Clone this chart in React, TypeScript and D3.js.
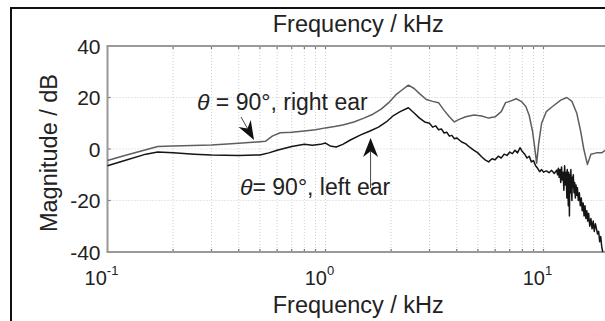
import React, { useEffect, useRef } from 'react';
import * as d3 from 'd3';

// frequencies in kHz, magnitudes in dB
const rightFreq = [0.1, 0.12, 0.15, 0.17, 0.2, 0.3, 0.4, 0.5, 0.53, 0.57, 0.62, 0.7, 0.8, 0.9, 1.0, 1.1, 1.2, 1.35, 1.5, 1.65, 1.8, 1.95, 2.1, 2.25, 2.4, 2.55, 2.7, 2.9, 3.1, 3.3, 3.5, 3.7, 3.9, 4.1, 4.4, 4.8, 5.2, 5.6, 6.0, 6.4, 6.7, 7.0, 7.5, 7.9, 8.3, 8.6, 8.9, 9.1, 9.3, 9.5, 9.8, 10.3, 11, 12, 12.8, 13.5, 14.2, 14.8, 15.3, 15.9, 16.5, 17.5, 18.5, 19.5, 20];
const rightDb = [-4.5, -2.5, -0.3, 1.0, 1.2, 1.6, 2.2, 2.8, 3.0, 5.0, 6.3, 6.5, 7.0, 7.5, 8.2, 8.7, 9.3, 10.5, 12.0, 13.5, 15.5, 18.0, 21.0, 23.0, 24.8, 23.5, 21.5, 19.2, 18.5, 18.0, 15.0, 12.5, 10.5, 11.5, 12.5, 13.2, 12.8, 12.0, 12.5, 14.5, 18.0, 18.5, 19.5, 18.5, 16.5, 13.0, 7.0, 1.0, -5.5, 2.0, 10.0, 14.5, 16.5, 19.0, 20.0, 18.5, 14.0, 7.0, 0.0, -6.0, -2.0, -1.5, -1.5, 0.0, 0.5];

const leftFreq = [0.1, 0.12, 0.15, 0.17, 0.2, 0.25, 0.3, 0.4, 0.5, 0.55, 0.6, 0.7, 0.8, 0.87, 0.95, 1.0, 1.05, 1.12, 1.2, 1.3, 1.45, 1.6, 1.75, 1.9, 2.05, 2.2, 2.4, 2.55, 2.7, 2.85, 3.0, 3.1, 3.2, 3.3, 3.4, 3.5, 3.6, 3.7, 3.8, 3.9, 4.0, 4.2, 4.4, 4.6, 4.8, 5.0, 5.2, 5.4, 5.6, 5.8, 6.0, 6.2, 6.4, 6.6, 6.8, 7.0, 7.2, 7.4, 7.6, 7.8, 8.0, 8.2, 8.4, 8.6, 8.8, 9.0, 9.2, 9.4, 9.6, 9.8, 10.0, 10.3, 10.6, 10.9, 11.2, 11.5, 11.6, 11.7, 11.8, 11.9, 12.0, 12.1, 12.2, 12.3, 12.4, 12.5, 12.6, 12.7, 12.8, 12.85, 12.9, 13.0, 13.05, 13.1, 13.15, 13.2, 13.3, 13.35, 13.4, 13.5, 13.55, 13.6, 13.7, 13.8, 13.9, 14.0, 14.1, 14.2, 14.3, 14.45, 14.6, 14.75, 14.9, 15.05, 15.2, 15.35, 15.5, 15.65, 15.8, 15.95, 16.1, 16.3, 16.5, 16.7, 16.9, 17.1, 17.3, 17.5, 17.7, 17.9, 18.1, 18.3, 18.5, 18.7];
const leftDb = [-6.5, -4.5, -2.0, -1.2, -1.5, -2.0, -2.3, -2.5, -2.3, -1.5, -0.5, 1.0, 1.8, 1.5, 1.8, 2.3, 1.2, 0.8, 1.8, 3.5, 5.5, 7.0, 8.5, 10.5, 13.0, 14.5, 16.0, 14.0, 12.0, 10.5, 10.0, 8.5, 9.0, 7.5, 7.8, 6.2, 6.5, 5.0, 5.3, 4.0, 4.3, 2.8, 2.0, 0.6, -0.5, -1.5, -3.0, -4.2, -5.0, -3.8, -4.2, -2.8, -3.5, -2.0, -2.5, -1.2, -1.8, -0.5, -1.5, 0.5, -1.0, -2.0, -3.5, -2.8, -5.0, -4.5, -6.5, -7.5, -8.8, -8.0, -9.0, -8.5, -9.2, -8.3, -9.5, -8.2, -10, -7.5, -11, -8, -13, -7, -12, -9, -16, -6.5, -14, -9, -19, -8, -12, -22, -9, -14, -26, -10, -17, -8, -13, -20, -11, -15, -10, -17, -13, -19, -14, -18, -15, -20, -17, -22, -19, -24, -21, -26, -22, -27, -24, -28, -25, -30, -27, -31, -28, -32, -29, -31, -33, -32, -36, -34, -38, -40];

const yTicks = [-40, -20, 0, 20, 40];
const xMajor = [0.1, 1, 10];
const xMajorExp = ['-1', '0', '1'];

const W = 605;
const H = 321;

const App: React.FC = () => {
  const svgRef = useRef<SVGSVGElement>(null);

  useEffect(() => {
    if (!svgRef.current) return;
    document.body.style.margin = '0';
    const svg = d3.select(svgRef.current);
    svg.selectAll('*').remove();

    const left = 107.5, top = 46, bottom = 252;
    const x = d3.scaleLog().domain([0.1, 20]).range([left, left + 218 * Math.log10(200)]);
    const y = d3.scaleLinear().domain([-40, 40]).range([bottom, top]);
    const right = x(20);
    const font = "'Liberation Sans', Arial, Helvetica, sans-serif";
    const ink = '#222';

    svg.append('rect').attr('width', W).attr('height', H).attr('fill', '#fff');
    // outer frame
    svg.append('path').attr('d', `M11,${H + 5}V8H${W + 5}`).attr('fill', 'none').attr('stroke', '#111').attr('stroke-width', 2);

    // grid
    const minor: number[] = [];
    [0.1, 1, 10].forEach(d => { for (let k = 1; k <= 9; k++) if (d * k <= 20) minor.push(d * k); });
    minor.push(20);
    const g = svg.append('g');
    g.selectAll('.vg').data(minor.filter(f => f > 0.1 && f < 20)).enter().append('line')
      .attr('x1', d => x(d)).attr('x2', d => x(d)).attr('y1', top).attr('y2', bottom)
      .attr('stroke', '#cfcfcf').attr('stroke-width', 1).attr('stroke-dasharray', '1,2');
    g.selectAll('.hg').data([-20, 0, 20]).enter().append('line')
      .attr('x1', left).attr('x2', right).attr('y1', d => y(d)).attr('y2', d => y(d))
      .attr('stroke', '#cfcfcf').attr('stroke-width', 1).attr('stroke-dasharray', '1,2');

    // ticks (inward)
    g.selectAll('.tb').data(minor).enter().append('line')
      .attr('x1', d => x(d)).attr('x2', d => x(d)).attr('y1', bottom).attr('y2', bottom - 3)
      .attr('stroke', '#777').attr('stroke-width', 1.2);
    g.selectAll('.tt').data(minor).enter().append('line')
      .attr('x1', d => x(d)).attr('x2', d => x(d)).attr('y1', top).attr('y2', top + 3)
      .attr('stroke', '#777').attr('stroke-width', 1.2);
    g.selectAll('.tl').data(yTicks).enter().append('line')
      .attr('x1', left).attr('x2', left + 3).attr('y1', d => y(d)).attr('y2', d => y(d))
      .attr('stroke', '#777').attr('stroke-width', 1.2);
    g.selectAll('.tr').data(yTicks).enter().append('line')
      .attr('x1', right - 4).attr('x2', right).attr('y1', d => y(d)).attr('y2', d => y(d))
      .attr('stroke', '#777').attr('stroke-width', 1.2);

    // axes box
    svg.append('rect').attr('x', left).attr('y', top).attr('width', right - left).attr('height', bottom - top)
      .attr('fill', 'none').attr('stroke', '#999').attr('stroke-width', 2);

    // curves
    const line = d3.line<[number, number]>().x(d => x(d[0])).y(d => y(d[1]));
    svg.append('path').datum(rightFreq.map((f, i) => [f, rightDb[i]] as [number, number]))
      .attr('d', line).attr('fill', 'none').attr('stroke', '#5e5e5e').attr('stroke-width', 1.5).attr('stroke-linejoin', 'round');
    svg.append('path').datum(leftFreq.map((f, i) => [f, leftDb[i]] as [number, number]))
      .attr('d', line).attr('fill', 'none').attr('stroke', '#151515').attr('stroke-width', 1.5).attr('stroke-linejoin', 'round');

    // tick labels
    svg.selectAll('.yl').data(yTicks).enter().append('text')
      .attr('x', left - 7).attr('y', d => y(d)).attr('dy', '0.36em').attr('text-anchor', 'end')
      .attr('font-family', font).attr('font-size', 21).attr('fill', ink).text(d => String(d));
    xMajor.forEach((v, i) => {
      const t = svg.append('text').attr('x', x(v) - 6).attr('y', 285).attr('text-anchor', 'middle')
        .attr('font-family', font).attr('font-size', 20).attr('fill', ink);
      t.append('tspan').text('10');
      t.append('tspan').attr('dy', -10).attr('font-size', 13).text(xMajorExp[i]);
    });

    // axis labels
    const cx = (left + right) / 2;
    svg.append('text').attr('x', cx).attr('y', 32).attr('text-anchor', 'middle')
      .attr('font-family', font).attr('font-size', 23.5).attr('fill', ink).text('Frequency / kHz');
    svg.append('text').attr('x', cx).attr('y', 313).attr('text-anchor', 'middle')
      .attr('font-family', font).attr('font-size', 23.5).attr('fill', ink).text('Frequency / kHz');
    svg.append('text').attr('transform', `translate(57,${(top + bottom) / 2 + 4}) rotate(-90)`).attr('text-anchor', 'middle')
      .attr('font-family', font).attr('font-size', 23.5).attr('fill', ink).text('Magnitude / dB');

    // annotations
    const addText = (tx: number, ty: number, rest: string) => {
      const t = svg.append('text').attr('x', tx).attr('y', ty).attr('font-family', font).attr('font-size', 23).attr('fill', ink);
      t.append('tspan').attr('font-style', 'italic').text('θ');
      t.append('tspan').text(rest);
    };
    addText(197, 110, ' = 90°, right ear');
    addText(240, 195, '= 90°, left ear');

    const arrow = (x0: number, y0: number, x1: number, y1: number, len: number, half: number) => {
      const dx = x1 - x0, dy = y1 - y0, L = Math.hypot(dx, dy);
      const ux = dx / L, uy = dy / L, px = -uy, py = ux;
      const bx = x1 - ux * len, by = y1 - uy * len;
      const nx = x1 - ux * len * 0.7, ny = y1 - uy * len * 0.7;
      svg.append('line').attr('x1', x0).attr('y1', y0).attr('x2', nx).attr('y2', ny).attr('stroke', '#444').attr('stroke-width', 1);
      svg.append('path')
        .attr('d', `M${x1},${y1}L${bx + px * half},${by + py * half}L${nx},${ny}L${bx - px * half},${by - py * half}Z`)
        .attr('fill', '#111');
    };
    arrow(241, 117, x(0.47), y(3.5), 19, 7);
    arrow(x(1.61), 188, x(1.61), y(4.3), 19, 7.5);
  }, []);

  return <svg ref={svgRef} width={W} height={H} style={{ position: 'absolute', left: 0, top: 0, display: 'block' }} />;
};

export default App;
